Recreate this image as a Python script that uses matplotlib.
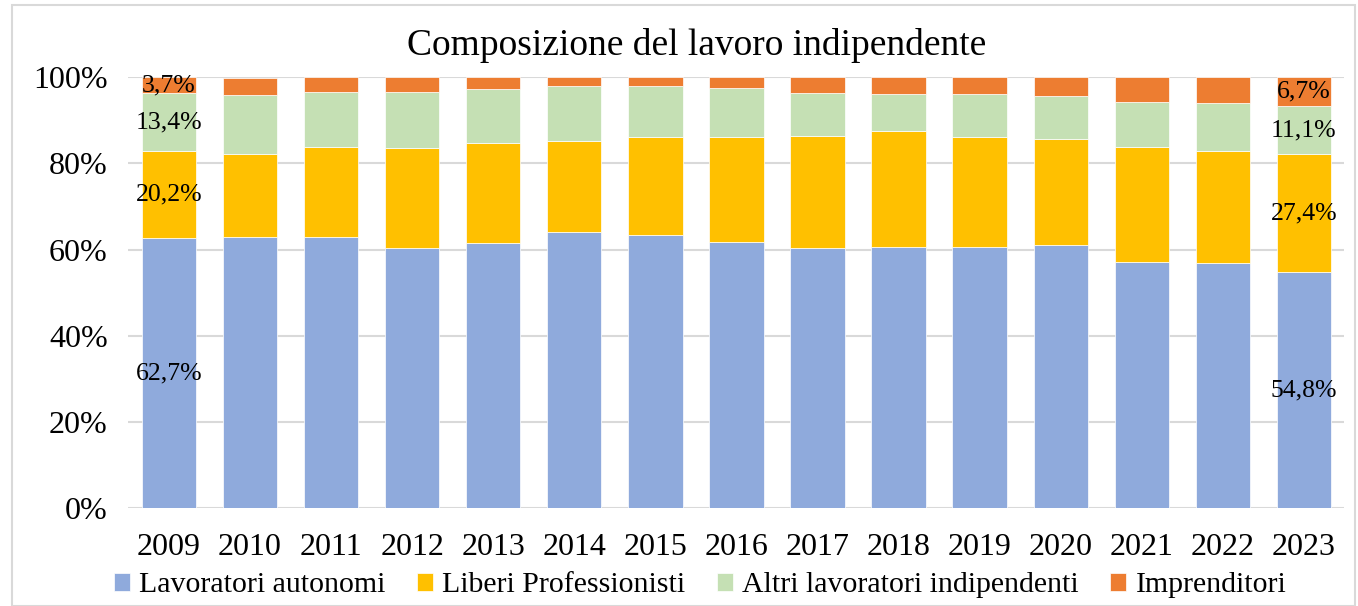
import matplotlib.pyplot as plt
import numpy as np
from matplotlib.patches import Rectangle

# data (shares in %)
years = ['2009', '2010', '2011', '2012', '2013', '2014', '2015', '2016',
         '2017', '2018', '2019', '2020', '2021', '2022', '2023']
autonomi = [62.7, 63.0, 62.9, 60.3, 61.6, 64.2, 63.4, 61.8, 60.4, 60.6, 60.6, 61.1, 57.2, 56.9, 54.8]
professionisti = [20.2, 19.2, 20.9, 23.3, 23.1, 20.9, 22.8, 24.4, 26.0, 26.9, 25.6, 24.5, 26.7, 26.0, 27.4]
altri = [13.4, 13.6, 12.9, 12.9, 12.6, 13.0, 11.9, 11.3, 10.0, 8.7, 9.9, 10.1, 10.3, 11.1, 11.1]
imprenditori = [3.7, 4.1, 3.3, 3.5, 2.7, 1.9, 1.9, 2.5, 3.6, 3.8, 3.9, 4.3, 5.8, 6.0, 6.7]

series = [('Lavoratori autonomi', autonomi, '#8FAADC'),
          ('Liberi Professionisti', professionisti, '#FFC000'),
          ('Altri lavoratori indipendenti', altri, '#C5E0B4'),
          ('Imprenditori', imprenditori, '#ED7D31')]

plt.rcParams['font.family'] = ['Liberation Serif', 'DejaVu Serif']

fig = plt.figure(figsize=(13.58, 6.06), dpi=100)
ax = fig.add_axes([0.0946, 0.1617, 0.8954, 0.7107])

x = np.arange(len(years))
bottom = np.zeros(len(years))
for name, vals, col in series:
    vals = np.array(vals)
    ax.bar(x, vals, 0.67, bottom=bottom, color=col, label=name,
           edgecolor='white', linewidth=0.5, zorder=2)
    # labels only on first and last year
    for i in (0, len(years) - 1):
        ax.text(x[i], bottom[i] + vals[i] / 2, f'{vals[i]:.1f}%'.replace('.', ','),
                ha='center', va='center', fontsize=18.5, color='black', zorder=3)
    bottom += vals

ax.set_xlim(-0.5, len(years) - 0.5)
ax.set_ylim(0, 100)
ax.set_yticks(np.arange(0, 101, 20))
ax.set_yticklabels([f'{v}%' for v in range(0, 101, 20)])
ax.set_xticks(x)
ax.set_xticklabels(years)
ax.tick_params(axis='both', length=0, labelsize=23)
ax.tick_params(axis='x', pad=18)
ax.tick_params(axis='y', pad=15)
ax.yaxis.grid(True, color='#D9D9D9', linewidth=1.5, zorder=0)
for s in ax.spines.values():
    s.set_visible(False)

fig.text(0.513, 0.925, 'Composizione del lavoro indipendente', fontsize=27,
         ha='center', va='center')

ax.legend(loc='upper center', bbox_to_anchor=(0.470, -0.122), ncol=4, frameon=False,
          fontsize=21.5, handlelength=0.55, handleheight=0.55, handletextpad=0.3,
          columnspacing=1.05, borderaxespad=0)

# chart area frame
fig.patches.append(Rectangle((12 / 1358, 0), 1 - 12 / 1358 - 0.002, 1 - 5 / 606,
                             transform=fig.transFigure, fill=False,
                             edgecolor='#D9D9D9', linewidth=1.5))

fig.savefig('out.png', dpi=100)
